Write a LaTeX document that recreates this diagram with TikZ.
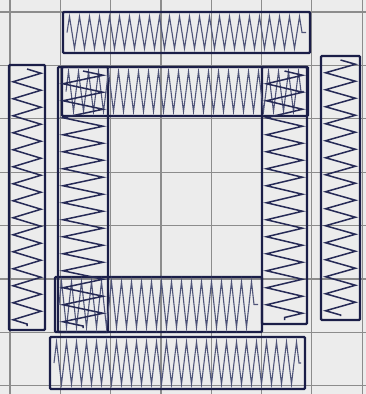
\documentclass[tikz,border=0pt]{standalone}
\usepackage{tikz}
\usetikzlibrary{positioning, decorations.pathmorphing}
\usepackage{xcolor}
\definecolor{ink}{HTML}{1B1E48}
\definecolor{hatchlt}{HTML}{4F5479}
\definecolor{hatchdk}{HTML}{262A56}
\definecolor{paper}{HTML}{ECECEC}
\definecolor{gridgray}{HTML}{8C8C8C}

\begin{document}
\begin{tikzpicture}[
      x=1pt, y=-1pt,
      bar/.style={draw=ink, line width=2.4pt, inner sep=0pt, outer sep=0pt,
                  rounded corners=1pt},
      gridline/.style={gridgray, line width=1.2pt},
      hhatch/.style={hatchlt, line width=1.1pt, decorate,
                     decoration={zigzag, segment length=10pt, amplitude=#1}},
      vhatch/.style={hatchdk, line width=1.5pt, decorate,
                     decoration={zigzag, segment length=17pt, amplitude=#1}},
    ]
    \fill[paper] (0,0) rectangle (366,394);
    \useasboundingbox (0,0) rectangle (366,394);
    \foreach \x in {10,60.3,...,363} \draw[gridline] (\x,0) -- (\x,394);
    \foreach \y in {12,65.4,...,390} \draw[gridline] (0,\y) -- (366,\y);

    \node[bar, minimum width=247pt, minimum height=41pt] (tout) at (186.5, 32.5) {};
    \node[bar, minimum width=246pt, minimum height=49pt] (tin)  at (185, 91.5)   {};
    \node[bar, minimum width=36pt,  minimum height=265pt](lout) at (27, 197.5)   {};
    \node[bar, minimum width=50pt,  minimum height=265pt](lin)  at (83, 199.5)   {};
    \node[bar, minimum width=45pt,  minimum height=257pt](rin)  at (284.5, 195.5){};
    \node[bar, minimum width=39pt,  minimum height=264pt](rout) at (340.5, 188)  {};
    \node[bar, minimum width=207pt, minimum height=55pt] (bin)  at (158.5, 304.5){};
    \node[bar, minimum width=255pt, minimum height=52pt] (bout) at (177.5, 363)  {};

    \draw[hhatch=16pt] ([xshift=4pt]tout.west) -- ([xshift=-4pt]tout.east);
    \draw[hhatch=20pt] ([xshift=4pt]tin.west)  -- ([xshift=-4pt]tin.east);
    \draw[hhatch=23pt] ([xshift=4pt]bin.west)  -- ([xshift=-4pt]bin.east);
    \draw[hhatch=21pt] ([xshift=4pt]bout.west) -- ([xshift=-4pt]bout.east);
    \draw[vhatch=14pt] ([yshift=-4pt]lout.north) -- ([yshift=4pt]lout.south);
    \draw[vhatch=20pt] ([yshift=-4pt]lin.north)  -- ([yshift=4pt]lin.south);
    \draw[vhatch=18pt] ([yshift=-4pt]rin.north)  -- ([yshift=4pt]rin.south);
    \draw[vhatch=15pt] ([yshift=-4pt]rout.north) -- ([yshift=4pt]rout.south);
  \end{tikzpicture}
\end{document}
